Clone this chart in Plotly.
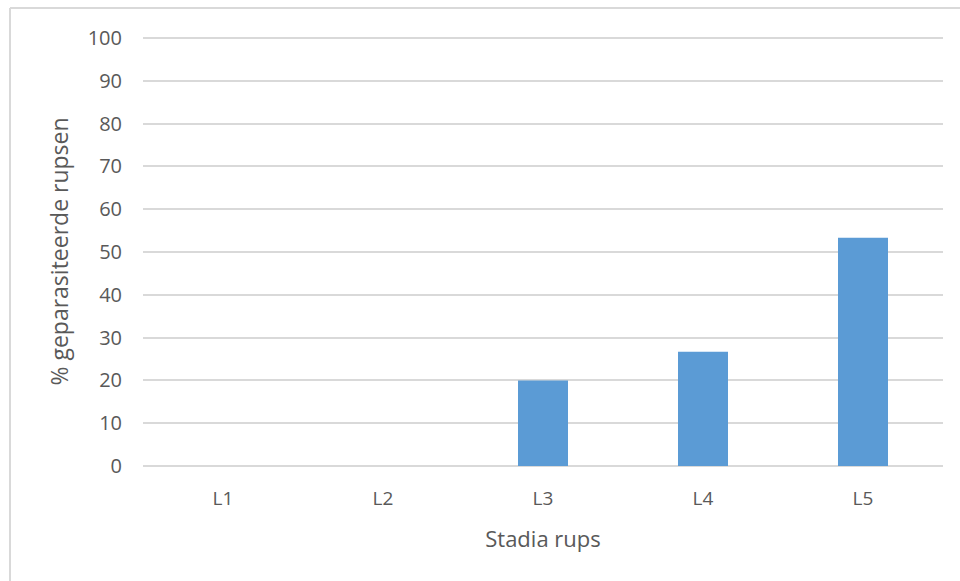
import plotly.graph_objects as go

# Percentage of parasitised caterpillars per larval stage
stages = ["L1", "L2", "L3", "L4", "L5"]
pct_parasitised = [0, 0, 20, 26.67, 53.33]
y_ticks = [0, 10, 20, 30, 40, 50, 60, 70, 80, 90, 100]

text_color = "#595959"
grid_color = "#d9d9d9"
font_family = "Open Sans, Noto Sans, sans-serif"

fig = go.Figure(
    go.Bar(
        x=stages,
        y=pct_parasitised,
        marker=dict(color="#5b9bd5", line=dict(width=0)),
        hoverinfo="x+y",
    )
)

# Plot area geometry in pixels
W, H = 960, 581
ml, mr, mt, mb = 143, 17, 37, 115
pw, ph = W - ml - mr, H - mt - mb


def px_x(x):
    return (x - ml) / pw


def px_y(y):
    return (H - mb - y) / ph


# Chart frame: top and left edges
frame = dict(type="line", xref="paper", yref="paper",
             line=dict(color="#d9d9d9", width=2), layer="below")
shapes = [
    dict(frame, x0=px_x(10), x1=px_x(962), y0=px_y(8), y1=px_y(8)),
    dict(frame, x0=px_x(10), x1=px_x(10), y0=px_y(8), y1=px_y(583)),
]

fig.update_layout(
    width=W,
    height=H,
    margin=dict(l=ml, r=mr, t=mt, b=mb),
    paper_bgcolor="white",
    plot_bgcolor="white",
    bargap=0.6875,
    showlegend=False,
    font=dict(family=font_family, color=text_color, size=18),
    shapes=shapes,
    xaxis=dict(
        title=dict(text="Stadia rups", font=dict(size=22, color=text_color), standoff=21),
        tickfont=dict(size=19, color=text_color),
        showgrid=False,
        showline=False,
        zeroline=False,
        ticks="",
        ticklabelstandoff=19,
    ),
    yaxis=dict(
        title=dict(text="% geparasiteerde rupsen", font=dict(size=23, color=text_color), standoff=12),
        range=[0, 100.25],
        tickvals=y_ticks,
        tickfont=dict(size=20, color=text_color),
        showgrid=True,
        gridcolor=grid_color,
        gridwidth=1.5,
        zeroline=True,
        zerolinecolor=grid_color,
        zerolinewidth=1.5,
        showline=False,
        ticks="",
        ticklabelstandoff=20,
    ),
)

fig.write_html("out.html")
